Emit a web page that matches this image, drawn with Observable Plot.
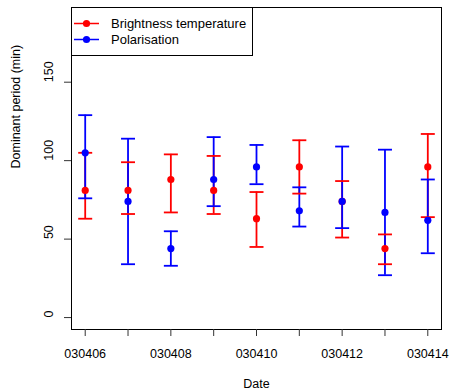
<!DOCTYPE html>
<html>
<head>
<meta charset="utf-8">
<script src="https://cdn.jsdelivr.net/npm/d3@7"></script>
<script src="https://cdn.jsdelivr.net/npm/@observablehq/plot@0.6"></script>
<style>
  body { margin: 0; background: #fff; }
</style>
</head>
<body>
<div id="chart"></div>
<script>
const dates = ["030406","030407","030408","030409","030410","030411","030412","030413","030414"];
const brightness   = [81, 81, 88, 81, 63, 96, 74, 44, 96];
const brightnessLo = [63, 66, 67, 66, 45, 79, 51, 34, 64];
const brightnessHi = [105, 99, 104, 103, 80, 113, 87, 53, 117];
const polarisation   = [105, 74, 44, 88, 96, 68, 74, 67, 62];
const polarisationLo = [76, 34, 33, 71, 85, 58, 57, 27, 41];
const polarisationHi = [129, 114, 55, 115, 110, 83, 109, 107, 88];
const yTicks = [0, 50, 100, 150];
const seriesNames = ["Brightness temperature", "Polarisation"];
const seriesColors = ["#ff0000", "#0000ff"];

const rows = [];
dates.forEach((d, i) => {
  rows.push({i, series: seriesNames[0], v: brightness[i], lo: brightnessLo[i], hi: brightnessHi[i]});
});
dates.forEach((d, i) => {
  rows.push({i, series: seriesNames[1], v: polarisation[i], lo: polarisationLo[i], hi: polarisationHi[i]});
});

const capSymbol = {
  draw(ctx) { ctx.moveTo(-7, 0); ctx.lineTo(7, 0); }
};

function legend(index, scales, values, dims) {
  const g = d3.create("svg:g");
  const x0 = dims.marginLeft, y0 = dims.marginTop;
  g.append("rect")
    .attr("x", x0 + 0.5).attr("y", y0 + 0.5)
    .attr("width", 181).attr("height", 48)
    .attr("fill", "white").attr("stroke", "black").attr("stroke-width", 1);
  seriesNames.forEach((name, k) => {
    const yy = y0 + 16.5 + k * 16;
    g.append("line")
      .attr("x1", x0 + 3).attr("x2", x0 + 28)
      .attr("y1", yy).attr("y2", yy)
      .attr("stroke", seriesColors[k]).attr("stroke-width", 1.5);
    g.append("circle")
      .attr("cx", x0 + 15.5).attr("cy", yy).attr("r", 3.6)
      .attr("fill", seriesColors[k]);
    g.append("text")
      .attr("x", x0 + 40).attr("y", yy)
      .attr("dy", "0.35em")
      .attr("text-anchor", "start")
      .attr("font-size", "13px")
      .attr("fill", "black")
      .text(name);
  });
  return g.node();
}

const chart = Plot.plot({
  width: 451,
  height: 392,
  marginLeft: 71,
  marginRight: 10,
  marginTop: 7,
  marginBottom: 63,
  style: {fontFamily: "'Liberation Sans', Arial, Helvetica, sans-serif", fontSize: "12.5px", background: "white"},
  x: {domain: [-0.32, 8.32], axis: null},
  y: {domain: [-7.6, 197.6], axis: null},
  color: {domain: seriesNames, range: seriesColors},
  marks: [
    Plot.frame({stroke: "black", strokeWidth: 1}),
    Plot.axisX({ticks: d3.range(dates.length), tickSize: 7, tickPadding: 13,
      tickFormat: i => (i % 2 === 0 ? dates[i] : ""), stroke: "#333", fill: "black", label: null}),
    Plot.axisY({ticks: yTicks, tickSize: 7, tickFormat: () => "", stroke: "#333", label: null}),
    Plot.text(yTicks, {y: d => d, text: d => String(d), frameAnchor: "left", dx: -23, rotate: -90, fill: "black"}),
    Plot.text(["Dominant period (min)"], {frameAnchor: "left", dx: -56, rotate: -90, fill: "black"}),
    Plot.text(["Date"], {frameAnchor: "bottom", dy: 58, fill: "black"}),
    Plot.ruleX(rows, {x: "i", y1: "lo", y2: "hi", stroke: "series", strokeWidth: 1.8}),
    Plot.dot(rows, {x: "i", y: "lo", symbol: capSymbol, stroke: "series", strokeWidth: 1.8, fill: "none"}),
    Plot.dot(rows, {x: "i", y: "hi", symbol: capSymbol, stroke: "series", strokeWidth: 1.8, fill: "none"}),
    Plot.dot(rows, {x: "i", y: "v", r: 3.6, fill: "series", stroke: null}),
    legend
  ]
});
document.getElementById("chart").appendChild(chart);
</script>
</body>
</html>
